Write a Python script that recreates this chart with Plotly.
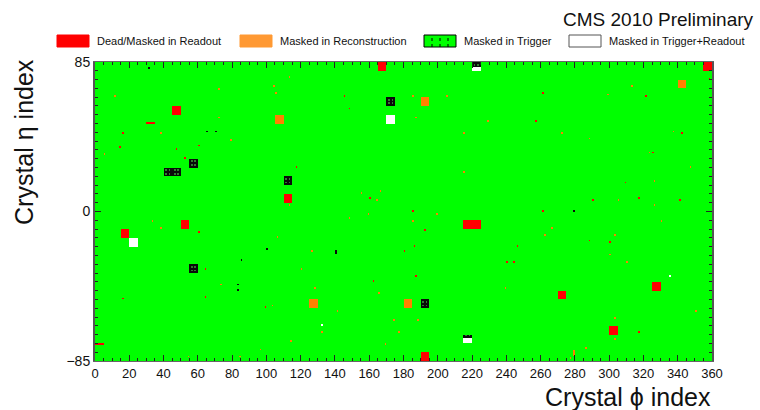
import numpy as np
import plotly.graph_objects as go

# ---------------- data (crystal indices) ----------------
# 5x5 trigger-tower sized regions, given by lower-left (phi, eta) crystal index
readout_tower_phi = [45, 110, 165, 355, 15, 50, 215, 220, 190, 270, 325, 300]
readout_tower_eta = [55, 5, 80, 80, -15, -10, -10, -10, -85, -50, -45, -70]

reco_tower_phi = [105, 190, 340, 125, 180]
reco_tower_eta = [50, 60, 70, -55, -55]

trigger_tower_phi = [40, 45, 55, 110, 170, 55, 190]
trigger_tower_eta = [20, 20, 25, 15, 60, -35, -55]

trigro_tower_phi = [170, 20]
trigro_tower_eta = [50, -20]

# partial regions: (phi, eta, n_phi, n_eta)
readout_strips = [(30, 50, 5, 1), (0, -76, 5, 1)]
trigger_strips = [(220, 82, 5, 3), (215, -72, 5, 2)]
trigro_strips = [(220, 80, 5, 2), (215, -75, 5, 3)]

# isolated crystals
readout_phi = [16, 14, 47, 52, 60, 117, 145, 148, 257, 261, 160, 185, 261, 321, 342, 325, 309, 290,
               317, 341, 60, 64, 64, 16, 99, 192, 186, 246, 180, 240, 244, 162, 187, 288, 300, 317, 358]
readout_eta = [44, 36, 35, 30, 37, 25, 65, 58, 51, 67, 7, 0, 0, 65, 44, 33, 16, 6,
               7, 6, -12, -33, -49, -50, -55, -11, -20, -20, -23, -29, -29, -40, -37, -17, -18, -69, 75]

reco_phi = [11, 5, 38, 72, 72, 79, 104, 105, 113, 113, 185, 205, 187, 215, 229, 215, 166, 155, 164,
            299, 313, 272, 288, 337, 323, 347, 326, 305, 326, 33, 38, 106, 73, 103, 114, 96, 54, 84,
            159, 148, 185, 199, 262, 126, 120, 128, 165, 239, 141, 174, 188, 132, 177, 169, 266, 330,
            303, 300, 310, 350, 303, 303, 286, 279, 279, 279, 277]
reco_eta = [65, 32, 44, 69, 53, 40, 71, 67, 76, 3, 65, 65, 53, 44, 51, 22, 11, 10, 6,
            66, 71, 44, 41, 45, 33, 25, 17, 6, 3, -6, -10, -15, -42, -54, -74, -79, -83, -83,
            -2, -4, -6, -2, -14, -23, -33, -44, -47, -44, -57, -62, -62, -69, -69, -76, -10, -6,
            -14, -25, -29, -57, -61, -73, -78, -80, -81, -82, -84]

trigger_phi = [31, 65, 70, 100, 85, 83, 83, 140, 140, 279]
trigger_eta = [81, 45, 45, -22, -28, -42, -45, -24, -23, 0]

trigro_phi = [132, 335]
trigro_eta = [-65, -37]

N_PHI, N_ETA = 360, 170
phi_centers = np.arange(N_PHI) + 0.5
eta_centers = np.arange(-85, 85) + 0.5

# codes: 0 good, 1 readout, 2 reconstruction, 3 trigger, 4 trigger+readout, 5 trigger hatch gap
z = np.zeros((N_ETA, N_PHI))


def fill(phi, eta, nphi, neta, code):
    for i in range(nphi):
        for j in range(neta):
            c, r = phi + i, eta + 85 + j
            if 0 <= c < N_PHI and 0 <= r < N_ETA:
                if code == 3:
                    # hatched look of a trigger-masked tower
                    z[r, c] = 3 if (i % 2 == 0 or j % 2 == 0) else 5
                else:
                    z[r, c] = code


for p, e in zip(readout_tower_phi, readout_tower_eta):
    fill(p, e, 5, 5, 1)
for p, e in zip(reco_tower_phi, reco_tower_eta):
    fill(p, e, 5, 5, 2)
for p, e in zip(trigger_tower_phi, trigger_tower_eta):
    fill(p, e, 5, 5, 3)
for p, e in zip(trigro_tower_phi, trigro_tower_eta):
    fill(p, e, 5, 5, 4)
for s in readout_strips:
    fill(*s, 1)
for s in trigger_strips:
    fill(*s, 3)
for s in trigro_strips:
    fill(*s, 4)
for p, e in zip(readout_phi, readout_eta):
    z[e + 85, p] = 1
for p, e in zip(reco_phi, reco_eta):
    z[e + 85, p] = 2
for p, e in zip(trigger_phi, trigger_eta):
    z[e + 85, p] = 3
for p, e in zip(trigro_phi, trigro_eta):
    z[e + 85, p] = 4

GREEN, RED, ORANGE, BLACK, WHITE = "#00ff00", "#ff0000", "#ff8000", "#0a0a0a", "#ffffff"
DKGREEN = "#2f7d2f"
cols = [GREEN, RED, ORANGE, BLACK, WHITE, DKGREEN]
cs = []
for k, c in enumerate(cols):
    lo = max(0.0, (k - 0.5) / 5)
    hi = min(1.0, (k + 0.5) / 5)
    cs += [[lo, c], [hi, c]]

fig = go.Figure(go.Heatmap(x=phi_centers, y=eta_centers, z=z, zmin=0, zmax=5,
                           colorscale=cs, showscale=False, zsmooth=False, hoverinfo="skip"))

W, H = 760, 410
L, R, T, B = 95, 48, 62, 49
PW, PH = W - L - R, H - T - B


def px(x):
    return (x - L) / PW


def py(y):
    return (H - B - y) / PH


FONT = "Liberation Sans, Arial, Helvetica, sans-serif"

fig.update_layout(
    width=W, height=H, margin=dict(l=L, r=R, t=T, b=B, pad=0),
    paper_bgcolor="white", plot_bgcolor=GREEN,
    font=dict(family=FONT, color="#111"),
    xaxis=dict(range=[0, 360], tickvals=list(range(0, 361, 20)), ticks="inside", ticklen=6,
               tickcolor="#222", showline=True, linecolor="#666", linewidth=1, mirror="ticks",
               showgrid=False, zeroline=False, tickfont=dict(size=13, family=FONT),
               minor=dict(dtick=5, ticks="inside", ticklen=3, tickcolor="#222")),
    yaxis=dict(range=[-85, 85], tickvals=[-85, 0, 85], ticks="inside", ticklen=6,
               tickcolor="#222", showline=True, linecolor="#555", linewidth=2, mirror="ticks",
               showgrid=False, zeroline=False, tickfont=dict(size=14, family=FONT),
               minor=dict(dtick=5, ticks="inside", ticklen=3, tickcolor="#222")),
)

ann = [
    dict(text="CMS 2010 Preliminary", x=px(756), y=py(19), xanchor="right", yanchor="middle",
         font=dict(size=19)),
    dict(text="Crystal ϕ index", x=px(713), y=py(397), xanchor="right", yanchor="middle",
         font=dict(size=25)),
    dict(text="Crystal η index", x=px(24), y=py(142), xanchor="center", yanchor="middle",
         textangle=-90, font=dict(size=25)),
]

shapes = []
legend_items = [("Dead/Masked in Readout", 57, RED, RED),
                ("Masked in Reconstruction", 240, "#ff9933", "#ff9933"),
                ("Masked in Trigger", 424, GREEN, "#000"),
                ("Masked in Trigger+Readout", 569, WHITE, "#555")]
for label, x0, fill_c, line_c in legend_items:
    shapes.append(dict(type="rect", xref="paper", yref="paper", x0=px(x0), x1=px(x0 + 32),
                       y0=py(47), y1=py(35), fillcolor=fill_c, line=dict(color=line_c, width=1)))
    ann.append(dict(text=label, x=px(x0 + 38), y=py(41.5), xanchor="left", yanchor="middle",
                    font=dict(size=11)))
    if label == "Masked in Trigger":
        for k in (8, 16, 24):
            shapes.append(dict(type="line", xref="paper", yref="paper", x0=px(x0 + k),
                               x1=px(x0 + k), y0=py(47), y1=py(35),
                               line=dict(color="#000", width=1, dash="dot")))

for a in ann:
    a.update(xref="paper", yref="paper", showarrow=False)
fig.update_layout(annotations=ann, shapes=shapes)

fig.write_html("out.html", config={"displayModeBar": False, "staticPlot": True},
               post_script="document.body.style.margin='0';document.body.style.overflow='hidden';")
